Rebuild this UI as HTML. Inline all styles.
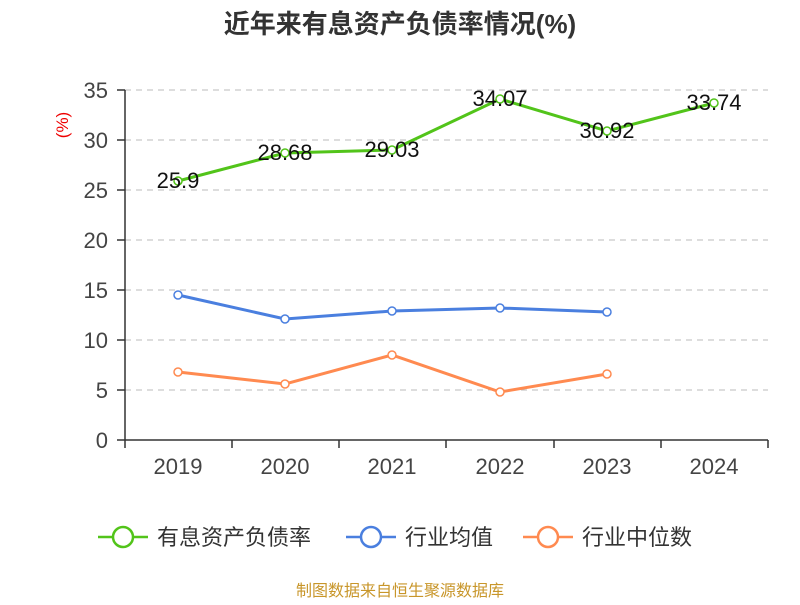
<!DOCTYPE html>
<html><head><meta charset="utf-8"><style>body{margin:0;background:#fff}</style></head><body>
<svg width="800" height="600" xmlns="http://www.w3.org/2000/svg" font-family="Liberation Sans, Noto Sans CJK SC, sans-serif">
<text x="400" y="33" text-anchor="middle" font-size="26" font-weight="bold" fill="#333">近年来有息资产负债率情况(%)</text>
<text transform="translate(68,125) rotate(-90)" text-anchor="middle" font-size="17" fill="#e00">(%)</text>
<g stroke="#bbb" stroke-dasharray="6,5" stroke-width="1">
<line x1="125" y1="90" x2="768" y2="90"/><line x1="125" y1="140" x2="768" y2="140"/><line x1="125" y1="190" x2="768" y2="190"/><line x1="125" y1="240" x2="768" y2="240"/><line x1="125" y1="290" x2="768" y2="290"/><line x1="125" y1="340" x2="768" y2="340"/><line x1="125" y1="390" x2="768" y2="390"/>
</g>
<g stroke="#333" stroke-width="1.5">
<line x1="125" y1="90" x2="125" y2="440"/><line x1="125" y1="440" x2="768" y2="440"/>
<line x1="117" y1="90" x2="125" y2="90"/><line x1="117" y1="140" x2="125" y2="140"/><line x1="117" y1="190" x2="125" y2="190"/><line x1="117" y1="240" x2="125" y2="240"/><line x1="117" y1="290" x2="125" y2="290"/><line x1="117" y1="340" x2="125" y2="340"/><line x1="117" y1="390" x2="125" y2="390"/><line x1="117" y1="440" x2="125" y2="440"/>
<line x1="125" y1="440" x2="125" y2="448"/><line x1="232" y1="440" x2="232" y2="448"/><line x1="339" y1="440" x2="339" y2="448"/><line x1="446" y1="440" x2="446" y2="448"/><line x1="554" y1="440" x2="554" y2="448"/><line x1="661" y1="440" x2="661" y2="448"/><line x1="768" y1="440" x2="768" y2="448"/>
</g>
<g font-size="22" fill="#444" text-anchor="end">
<text x="108" y="98">35</text><text x="108" y="148">30</text><text x="108" y="198">25</text><text x="108" y="248">20</text><text x="108" y="298">15</text><text x="108" y="348">10</text><text x="108" y="398">5</text><text x="108" y="448">0</text>
</g>
<g font-size="22" fill="#444" text-anchor="middle">
<text x="178" y="474">2019</text><text x="285" y="474">2020</text><text x="392" y="474">2021</text><text x="500" y="474">2022</text><text x="607" y="474">2023</text><text x="714" y="474">2024</text>
</g>
<polyline fill="none" stroke="#52c41a" stroke-width="3" points="178,181 285,153 392,150 500,99 607,131 714,103"/>
<polyline fill="none" stroke="#4a7fdf" stroke-width="3" points="178,295 285,319 392,311 500,308 607,312"/>
<polyline fill="none" stroke="#ff8a50" stroke-width="3" points="178,372 285,384 392,355 500,392 607,374"/>
<g fill="#fff" stroke-width="1.5">
<g stroke="#52c41a"><circle cx="178" cy="181" r="4"/><circle cx="285" cy="153" r="4"/><circle cx="392" cy="150" r="4"/><circle cx="500" cy="99" r="4"/><circle cx="607" cy="131" r="4"/><circle cx="714" cy="103" r="4"/></g>
<g stroke="#4a7fdf"><circle cx="178" cy="295" r="4"/><circle cx="285" cy="319" r="4"/><circle cx="392" cy="311" r="4"/><circle cx="500" cy="308" r="4"/><circle cx="607" cy="312" r="4"/></g>
<g stroke="#ff8a50"><circle cx="178" cy="372" r="4"/><circle cx="285" cy="384" r="4"/><circle cx="392" cy="355" r="4"/><circle cx="500" cy="392" r="4"/><circle cx="607" cy="374" r="4"/></g>
</g>
<g font-size="22" fill="#111" text-anchor="middle">
<text x="178" y="188">25.9</text><text x="285" y="160">28.68</text><text x="392" y="157">29.03</text><text x="500" y="106">34.07</text><text x="607" y="138">30.92</text><text x="714" y="110">33.74</text>
</g>
<g stroke-width="2.5" fill="#fff">
<line x1="98" y1="537" x2="148" y2="537" stroke="#52c41a"/><circle cx="123" cy="537" r="10" stroke="#52c41a"/>
<line x1="346" y1="537" x2="396" y2="537" stroke="#4a7fdf"/><circle cx="371" cy="537" r="10" stroke="#4a7fdf"/>
<line x1="523" y1="537" x2="573" y2="537" stroke="#ff8a50"/><circle cx="548" cy="537" r="10" stroke="#ff8a50"/>
</g>
<g font-size="22" fill="#333">
<text x="157" y="545">有息资产负债率</text><text x="405" y="545">行业均值</text><text x="582" y="545">行业中位数</text>
</g>
<text x="400" y="596" text-anchor="middle" font-size="16" fill="#c8962a">制图数据来自恒生聚源数据库</text>
</svg>
</body></html>
